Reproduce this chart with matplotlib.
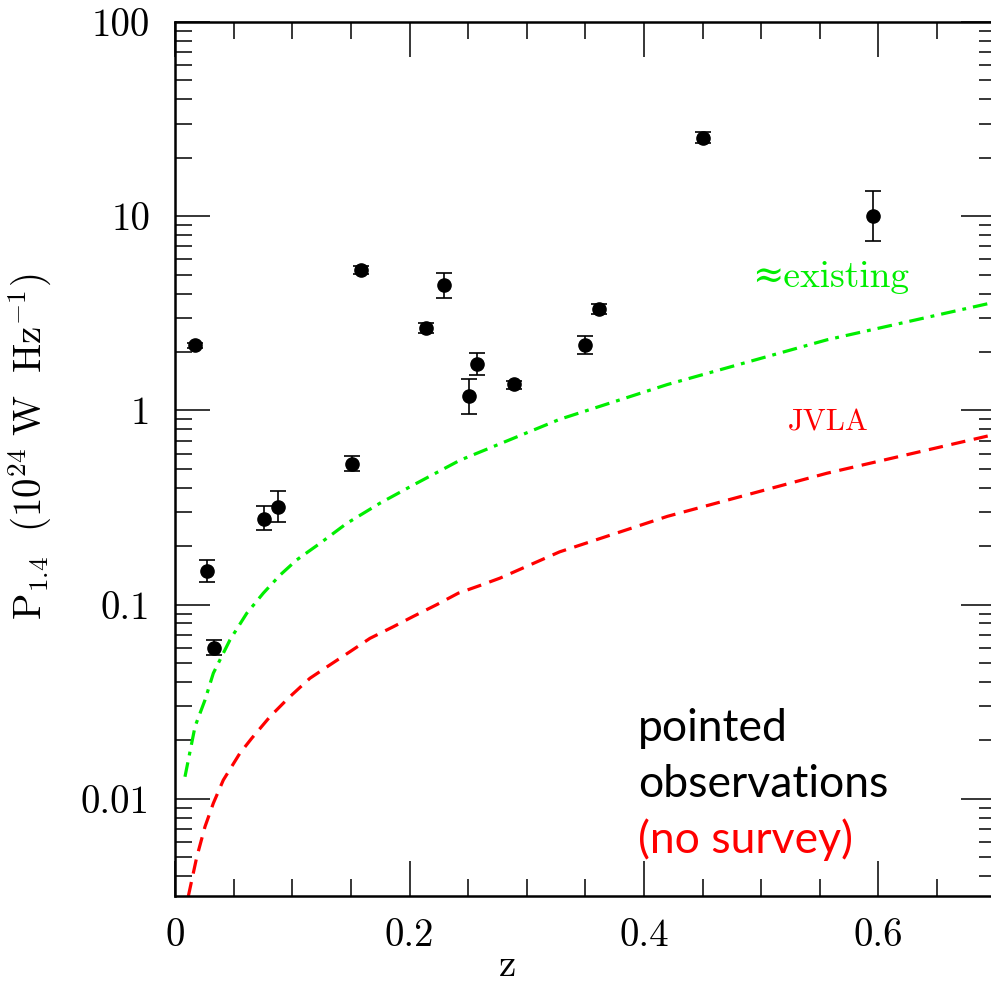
import numpy as np
import matplotlib
matplotlib.use('Agg')
import matplotlib.pyplot as plt
from matplotlib.ticker import FixedLocator, MultipleLocator, NullFormatter

plt.rcParams['mathtext.fontset'] = 'cm'
plt.rcParams['font.family'] = ['cmr10', 'DejaVu Serif']
plt.rcParams['axes.formatter.use_mathtext'] = True

# measured sources
z = [0.0171, 0.0273, 0.0333, 0.0759, 0.0878, 0.151, 0.1586, 0.2141, 0.2294,
     0.2508, 0.2577, 0.2892, 0.3497, 0.3616, 0.4503, 0.5953]
P = [2.16, 0.149, 0.0599, 0.277, 0.319, 0.533, 5.29, 2.67, 4.43,
     1.18, 1.74, 1.37, 2.17, 3.33, 25.4, 10.0]
P_lo = [2.09, 0.131, 0.0548, 0.2416, 0.2655, 0.489, 5.05, 2.50, 3.81,
        0.96, 1.52, 1.29, 1.95, 3.12, 23.9, 7.47]
P_hi = [2.23, 0.170, 0.066, 0.321, 0.383, 0.583, 5.55, 2.83, 5.12,
        1.46, 1.98, 1.42, 2.43, 3.53, 27.0, 13.5]

# sensitivity limits
z_exist = [0.0085, 0.0171, 0.0256, 0.0327, 0.0469, 0.0612, 0.0753, 0.0896,
           0.1038, 0.1237, 0.1464, 0.1748, 0.2032, 0.243, 0.328, 0.42,
           0.556, 0.70]
P_exist = [0.0130, 0.0236, 0.0323, 0.0444, 0.0659, 0.0903, 0.1146, 0.142,
           0.170, 0.207, 0.262, 0.333, 0.413, 0.554, 0.90, 1.36,
           2.31, 3.62]
z_jvla = [0.0114, 0.0185, 0.0256, 0.0327, 0.0412, 0.0554, 0.0654, 0.081,
          0.0966, 0.1151, 0.1322, 0.1493, 0.1663, 0.1862, 0.2032, 0.2232,
          0.2416, 0.2601, 0.2772, 0.328, 0.42, 0.556, 0.70]
P_jvla = [0.00316, 0.0050, 0.0072, 0.0095, 0.0125, 0.0172, 0.0205, 0.0265,
          0.033, 0.0418, 0.049, 0.0573, 0.0671, 0.077, 0.087, 0.100,
          0.1146, 0.1255, 0.137, 0.187, 0.285, 0.475, 0.755]

fig = plt.figure(figsize=(9.91, 9.86), dpi=100)
ax = fig.add_axes([175/991, 90/986, 820.75/991, 874/986])

ax.plot(z_exist, P_exist, color='#00ee00', lw=2.3, dashes=(4.6, 2.2, 1.2, 2.2))
ax.plot(z_jvla, P_jvla, color='red', lw=2.3, dashes=(4.5, 2.7))

P = np.array(P)
yerr = [P - np.array(P_lo), np.array(P_hi) - P]
ax.errorbar(z, P, yerr=yerr, fmt='o', color='black', ms=9.5, ecolor='black',
            elinewidth=1.2, capsize=6, capthick=1.2)

ax.set_yscale('log')
ax.set_xlim(0, 0.7)
ax.set_ylim(10**-2.5, 100)

ax.xaxis.set_major_locator(FixedLocator([0, 0.2, 0.4, 0.6]))
ax.xaxis.set_minor_locator(MultipleLocator(0.05))
ax.set_xticklabels(['0', '0.2', '0.4', '0.6'])
ax.set_yticks([0.01, 0.1, 1, 10, 100])
ax.set_yticklabels(['0.01', '0.1', '1', '10', '100'])
ax.yaxis.set_minor_formatter(NullFormatter())

ax.tick_params(which='both', direction='in', top=True, right=True,
               labelsize=28, width=1.1)
ax.tick_params(axis='x', pad=16)
ax.tick_params(axis='y', pad=18)
ax.tick_params(which='major', length=25)
ax.tick_params(which='minor', length=12)
for s in ax.spines.values():
    s.set_linewidth(1.8)

# axis titles
fig.text(508/991, 1 - 976/986, 'z', fontsize=28, ha='center', va='baseline')
fig.text(42/991, 1 - 447/986,
         r'$\mathrm{P}_{1.4}\ \ (10^{24}\ \mathrm{W\ \ Hz}^{-1})$',
         fontsize=28, rotation=90, rotation_mode='anchor',
         ha='center', va='baseline')

fig.text(831/991, 1 - 277/986, '≈existing', color='#00ee00',
         fontsize=27, ha='center', va='center')
fig.text(828/991, 1 - 423/986, 'JVLA', color='red',
         fontsize=22, ha='center', va='center')

fig.text(638/991, 1 - 741/986, 'pointed', family='Lato', fontsize=32,
         ha='left', va='baseline')
fig.text(638/991, 1 - 797/986, 'observations', family='Lato', fontsize=32,
         ha='left', va='baseline')
fig.text(638/991, 1 - 853/986, '(no survey)', family='Lato', fontsize=32,
         color='red', ha='left', va='baseline')

plt.savefig('out.png', dpi=100)
